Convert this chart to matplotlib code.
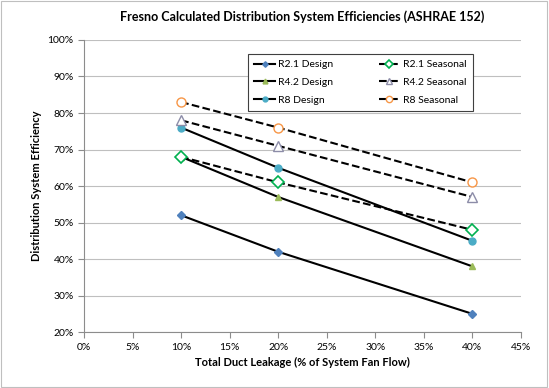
import matplotlib.pyplot as plt
from matplotlib.ticker import PercentFormatter

plt.rcParams['font.family'] = ['Lato', 'DejaVu Sans']

leakage = [10, 20, 40]
r21_design = [52, 42, 25]
r42_design = [68, 57, 38]
r8_design = [76, 65, 45]
r21_seasonal = [68, 61, 48]
r42_seasonal = [78, 71, 57]
r8_seasonal = [83, 76, 61]

fig = plt.figure(figsize=(5.49, 3.88), dpi=100)
ax = fig.add_axes([0.153, 0.144, 0.796, 0.753])

# outer chart border
fig.patches.append(plt.Rectangle((0.002, 0.003), 0.995, 0.994, transform=fig.transFigure,
                                 fill=False, edgecolor='#bfbfbf', lw=0.8))

# design lines first so the legend fills column 1 with them
ax.plot(leakage, r21_design, '-', color='black', lw=1.5, marker='D', ms=4,
        mfc='#4F81BD', mec='#4F81BD', label='R2.1 Design')
ax.plot(leakage, r42_design, '-', color='black', lw=1.5, marker='^', ms=5,
        mfc='#9BBB59', mec='#9BBB59', label='R4.2 Design')
ax.plot(leakage, r8_design, '-', color='black', lw=1.5, marker='o', ms=5,
        mfc='#4BACC6', mec='#4BACC6', label='R8 Design')
ax.plot(leakage, r21_seasonal, '--', color='black', lw=1.5, marker='D', ms=6.5,
        mfc='white', mec='#00B050', mew=1.2, label='R2.1 Seasonal')
ax.plot(leakage, r42_seasonal, '--', color='black', lw=1.5, marker='^', ms=6.5,
        mfc='white', mec='#8C8CA8', mew=1.0, label='R4.2 Seasonal')
ax.plot(leakage, r8_seasonal, '--', color='black', lw=1.5, marker='o', ms=6.5,
        mfc='white', mec='#F79646', mew=1.0, label='R8 Seasonal')

ax.set_xlim(0, 45)
ax.set_ylim(20, 100)
ax.set_xticks(range(0, 50, 5))
ax.set_yticks(range(20, 110, 10))
ax.xaxis.set_major_formatter(PercentFormatter(decimals=0))
ax.yaxis.set_major_formatter(PercentFormatter(decimals=0))
ax.grid(axis='y', color='#bfbfbf', lw=0.8)
ax.set_axisbelow(True)
for s in ['top', 'right']:
    ax.spines[s].set_visible(False)
ax.spines['left'].set_color('#8c8c8c')
ax.spines['bottom'].set_color('#8c8c8c')
ax.tick_params(labelsize=7.5, colors='#8c8c8c', labelcolor='black', length=4)

ax.set_xlabel('Total Duct Leakage (% of System Fan Flow)', fontsize=8, fontweight='bold')
ax.set_ylabel('Distribution System Efficiency', fontsize=8, fontweight='bold')
ax.set_title('Fresno Calculated Distribution System Efficiencies (ASHRAE 152)',
             fontsize=9, fontweight='bold', pad=14)

leg = ax.legend(ncol=2, loc='upper left', bbox_to_anchor=(0.363, 0.97), fontsize=7.5,
                frameon=True, fancybox=False, edgecolor='#404040', framealpha=1,
                handlelength=2.0, handletextpad=0.3, columnspacing=4.4,
                borderpad=0.6, labelspacing=0.8, markerscale=0.7)
leg.get_frame().set_linewidth(0.8)

fig.savefig('out.png', dpi=100)
